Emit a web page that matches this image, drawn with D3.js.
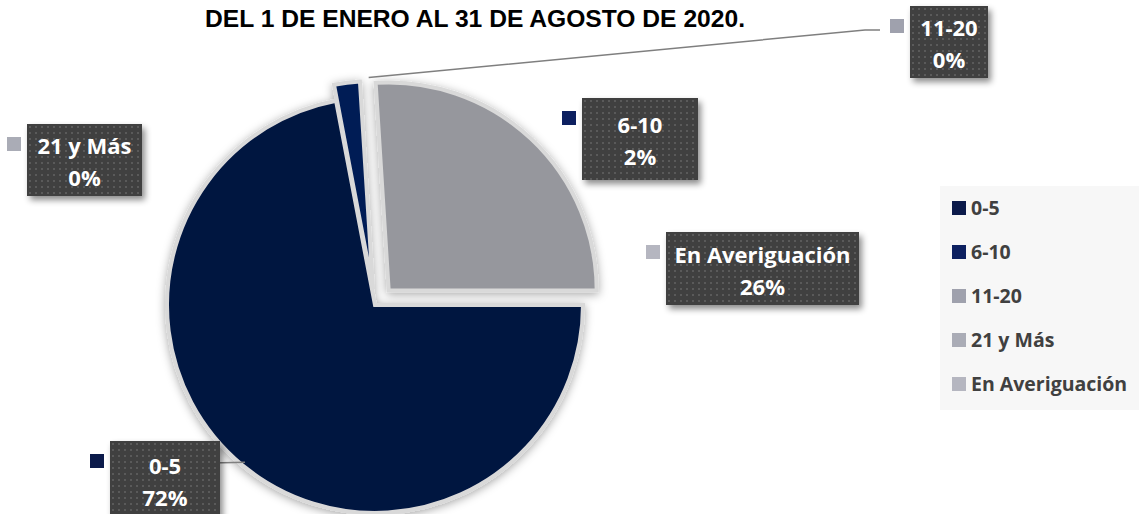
<!DOCTYPE html>
<html>
<head>
<meta charset="utf-8">
<script src="https://cdn.jsdelivr.net/npm/d3@7"></script>
<style>
  body { margin: 0; background: #fff; }
  svg { display: block; }
</style>
</head>
<body>
<div id="vis-container"></div>
<script>
//data
let categories = ["0-5", "6-10", "11-20", "21 y Más", "En Averiguación"];
let values = [72, 2, 0, 0, 26];
let colors = ["#0b1a4a", "#0d2060", "#9fa1ad", "#aaacb6", "#b5b6c0"];
let sliceColors = ["#001540", "#021d55", "#9fa1ad", "#aaacb6", "#96979d"];
let explode = [0, 16, 0, 0, 20];
let title = "DEL 1 DE ENERO AL 31 DE AGOSTO DE 2020.";

//label boxes layout (x, y, w, h of the box)
let labelBoxes = [
  {x:110, y:441, w:110, h:78},
  {x:582, y:98, w:116, h:82},
  {x:910, y:6, w:78, h:72},
  {x:27, y:124, w:115, h:72},
  {x:666, y:232, w:193, h:73}
];

let width = 1139, height = 514;
let cx = 375, cy = 305, radius = 208;
let labelFont = "'Open Sans', 'Noto Sans', sans-serif";

let svg = d3.select("#vis-container")
  .append("svg")
  .attr("width", width)
  .attr("height", height);

let defs = svg.append("defs");

//dotted pattern for labels
let pat = defs.append("pattern")
  .attr("id", "dots")
  .attr("width", 6)
  .attr("height", 6)
  .attr("patternUnits", "userSpaceOnUse");
pat.append("rect").attr("width", 6).attr("height", 6).attr("fill", "#404040");
pat.append("rect").attr("x", 2).attr("y", 2).attr("width", 2).attr("height", 2).attr("fill", "#5a5a5a");

//shadows
let f1 = defs.append("filter").attr("id", "pieShadow")
  .attr("x", "-20%").attr("y", "-20%").attr("width", "140%").attr("height", "140%");
f1.append("feDropShadow").attr("dx", 0).attr("dy", 2).attr("stdDeviation", 5)
  .attr("flood-color", "#000").attr("flood-opacity", 0.35);

let f2 = defs.append("filter").attr("id", "boxShadow")
  .attr("x", "-20%").attr("y", "-20%").attr("width", "140%").attr("height", "140%");
f2.append("feDropShadow").attr("dx", 3).attr("dy", 4).attr("stdDeviation", 3)
  .attr("flood-color", "#000").attr("flood-opacity", 0.45);

//title
svg.append("text")
  .attr("x", 475)
  .attr("y", 27)
  .attr("text-anchor", "middle")
  .attr("font-family", "'Liberation Sans', Arial, sans-serif")
  .attr("font-weight", "bold")
  .attr("font-size", "23px")
  .attr("textLength", 540)
  .attr("lengthAdjust", "spacingAndGlyphs")
  .attr("fill", "#000")
  .text(title);

let data = categories.map((c, i) => ({cat: c, value: values[i], i: i}));

let pie = d3.pie()
  .sort(null)
  .value(d => d.value)
  .startAngle(Math.PI / 2)
  .endAngle(Math.PI / 2 + 2 * Math.PI);

let arc = d3.arc().innerRadius(0).outerRadius(radius);

let arcs = pie(data);

let g = svg.append("g")
  .attr("transform", `translate(${cx}, ${cy})`);

let slices = g.append("g").attr("filter", "url(#pieShadow)");

slices.selectAll("path")
  .data(arcs.filter(d => d.value > 0))
  .enter()
  .append("path")
  .attr("transform", d => {
    let a = (d.startAngle + d.endAngle) / 2;
    let e = explode[d.data.i];
    return `translate(${Math.sin(a) * e}, ${-Math.cos(a) * e})`;
  })
  .attr("d", arc)
  .attr("fill", d => sliceColors[d.data.i])
  .attr("stroke", "#d9d9d9")
  .attr("stroke-width", 4)
  .attr("stroke-linejoin", "miter");

//leader lines
let pt = (a, r) => [cx + Math.sin(a) * r, cy - Math.cos(a) * r];

let a0 = (arcs[0].startAngle + arcs[0].endAngle) / 2;
let p0 = pt(a0, radius - 4);
svg.append("path")
  .attr("d", d3.line()([p0, [labelBoxes[0].x, p0[1] + 3]]))
  .attr("stroke", "#7f7f7f").attr("stroke-width", 1.5).attr("fill", "none");

let a2 = arcs[2].startAngle;
let p2 = pt(a2, radius + 20);
svg.append("path")
  .attr("d", d3.line()([[p2[0] + 8, p2[1]], [865, 30], [880, 30]]))
  .attr("stroke", "#7f7f7f").attr("stroke-width", 1.5).attr("fill", "none");

//data labels
let labels = svg.selectAll("g.label")
  .data(data)
  .enter()
  .append("g")
  .attr("class", "label")
  .attr("transform", d => `translate(${labelBoxes[d.i].x}, ${labelBoxes[d.i].y})`);

labels.append("rect")
  .attr("width", d => labelBoxes[d.i].w)
  .attr("height", d => labelBoxes[d.i].h)
  .attr("fill", "url(#dots)")
  .attr("filter", "url(#boxShadow)");

labels.append("rect")
  .attr("x", -20)
  .attr("y", 13)
  .attr("width", 14)
  .attr("height", 14)
  .attr("fill", d => colors[d.i]);

labels.append("text")
  .attr("x", d => labelBoxes[d.i].w / 2)
  .attr("y", d => labelBoxes[d.i].h / 2 - 6)
  .attr("text-anchor", "middle")
  .attr("font-family", labelFont)
  .attr("font-weight", "bold")
  .attr("font-size", "22px")
  .attr("fill", "#fff")
  .text(d => d.cat);

labels.append("text")
  .attr("x", d => labelBoxes[d.i].w / 2)
  .attr("y", d => labelBoxes[d.i].h / 2 + 26)
  .attr("text-anchor", "middle")
  .attr("font-family", labelFont)
  .attr("font-weight", "bold")
  .attr("font-size", "22px")
  .attr("fill", "#fff")
  .text(d => d3.format(".0f")(d.value) + "%");

//legend
let legend = svg.append("g")
  .attr("transform", "translate(940, 186)");

legend.append("rect")
  .attr("width", 199)
  .attr("height", 224)
  .attr("fill", "#f7f7f7");

let ly = d3.scalePoint()
  .domain(categories)
  .range([22, 198]);

let items = legend.selectAll("g.item")
  .data(categories)
  .enter()
  .append("g")
  .attr("class", "item")
  .attr("transform", d => `translate(0, ${ly(d)})`);

items.append("rect")
  .attr("x", 12)
  .attr("y", -7)
  .attr("width", 14)
  .attr("height", 14)
  .attr("fill", (d, i) => colors[i]);

items.append("text")
  .attr("x", 31)
  .attr("y", 7)
  .attr("font-family", labelFont)
  .attr("font-weight", "bold")
  .attr("font-size", "19.5px")
  .attr("fill", "#404040")
  .text(d => d);
</script>
</body>
</html>
